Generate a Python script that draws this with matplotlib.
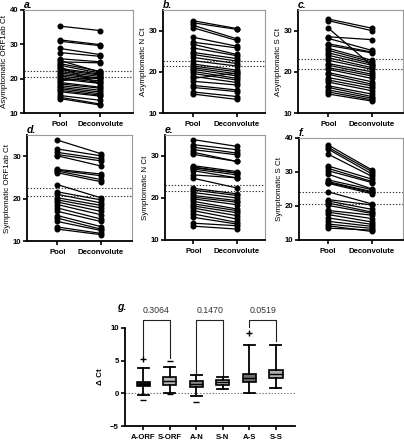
import matplotlib
matplotlib.use("Agg")
import matplotlib.pyplot as plt
import numpy as np

plt.rcParams['font.family'] = ['Liberation Sans', 'DejaVu Sans']

# ---------------- data ----------------
x_labels = ['Pool', 'Deconvolute']

a_pool = [35.3, 31.3, 30.9, 28.8, 27.6, 25.8, 25.3, 24.9, 24.4, 23.9, 23.5, 23.0, 22.6, 22.1, 21.7,
          21.2, 20.8, 20.3, 19.9, 19.4, 18.9, 18.5, 18.0, 17.5, 17.1, 16.6, 16.2, 15.1, 14.6, 14.2]
a_dec = [34.0, 29.9, 29.6, 27.0, 26.5, 24.9, 21.9, 24.6, 22.1, 21.6, 18.3, 21.3, 21.0, 20.6, 20.1,
         19.9, 19.3, 18.9, 18.6, 20.4, 17.5, 17.2, 16.6, 16.1, 15.6, 15.2, 14.9, 13.7, 12.6, 12.3]
a_means = [22.1, 20.5]

b_pool = [32.4, 31.9, 31.3, 30.7, 28.4, 27.2, 26.7, 25.8, 24.7, 24.2, 23.5, 22.7, 21.9, 21.4, 21.0,
          20.6, 20.1, 19.6, 18.9, 18.4, 17.7, 16.7, 16.2, 15.1, 14.6]
b_dec = [30.5, 30.3, 28.0, 27.6, 26.2, 25.8, 24.2, 23.9, 23.2, 22.6, 22.0, 21.4, 20.4, 20.0, 19.5,
         19.0, 18.4, 18.0, 17.4, 19.7, 16.8, 15.6, 15.2, 14.0, 13.3]
b_means = [22.7, 21.3]

c_pool = [32.8, 32.4, 30.6, 28.5, 28.1, 26.8, 26.4, 25.7, 25.2, 24.6, 24.0, 23.4, 22.8, 22.0,
          21.6, 21.0, 20.6, 19.8, 19.4, 18.6, 18.0, 17.5, 16.6, 16.2, 15.6, 15.1, 14.6]
c_dec = [30.6, 30.0, 21.5, 27.8, 25.2, 24.8, 24.6, 22.8, 22.4, 22.0, 21.6, 21.0, 20.6, 20.0,
         19.4, 19.0, 18.4, 17.6, 17.0, 16.6, 16.0, 15.4, 14.6, 14.0, 13.6, 13.2, 12.9]
c_means = [23.2, 20.7]

d_pool = [33.8, 31.7, 30.9, 30.4, 30.1, 26.9, 26.7, 26.5, 26.1, 23.3, 21.6, 21.0, 20.2, 19.7,
          19.2, 18.6, 17.8, 17.0, 16.0, 15.4, 14.6, 13.3, 12.8]
d_dec = [30.6, 30.1, 29.4, 28.9, 27.7, 25.8, 25.4, 24.5, 24.0, 20.2, 19.7, 19.0, 18.4, 17.8,
         17.0, 16.2, 15.2, 14.6, 13.4, 12.8, 12.5, 11.8, 11.5]
d_means = [22.4, 20.6]

e_pool = [33.9, 32.7, 32.1, 31.5, 30.9, 30.4, 27.7, 27.4, 27.2, 26.9, 26.5, 25.5, 24.7, 22.3,
          21.9, 21.3, 20.6, 20.2, 19.8, 19.2, 18.6, 18.1, 17.6, 17.0, 16.2, 15.4, 14.0, 13.3]
e_dec = [32.3, 31.5, 30.7, 30.3, 28.7, 28.7, 26.3, 25.9, 26.0, 25.5, 24.8, 24.8, 22.4, 21.0,
         20.6, 20.0, 19.4, 19.0, 18.4, 17.4, 17.0, 16.5, 15.8, 15.0, 14.2, 13.8, 13.4, 12.6]
e_means = [23.2, 21.6]

f_pool = [38.0, 37.3, 36.8, 35.3, 31.8, 31.1, 30.4, 29.4, 27.7, 27.2, 26.9, 26.7, 24.2, 21.9,
          21.5, 20.9, 20.2, 18.7, 18.2, 17.5, 16.5, 15.5, 14.7, 14.2, 13.5]
f_dec = [30.6, 30.1, 29.4, 28.7, 27.9, 27.2, 26.9, 25.0, 24.8, 24.2, 24.0, 23.6, 20.6, 20.3,
         19.0, 18.2, 17.8, 17.3, 16.3, 15.3, 14.6, 14.0, 13.4, 12.5, 12.9]
f_means = [24.0, 20.6]

g_labels = ['A-ORF', 'S-ORF', 'A-N', 'S-N', 'A-S', 'S-S']
g_med = [1.4, 1.9, 1.5, 1.7, 2.4, 3.0]
g_q1 = [1.1, 1.3, 1.0, 1.35, 1.75, 2.4]
g_q3 = [1.75, 2.45, 1.95, 2.05, 2.95, 3.55]
g_whislo = [-0.3, 0.0, -0.35, 0.65, 0.05, 0.85]
g_whishi = [3.9, 4.1, 2.75, 2.45, 7.4, 7.4]
g_out_idx = [0, 1, 4, 0, 1, 2]
g_out_val = [5.2, 4.9, 9.3, -0.95, -0.15, -1.3]
g_pvals = ['0.3064', '0.1470', '0.0519']
g_pairs = [(0, 1), (2, 3), (4, 5)]
g_leg_tops = [5.7, 5.45, 3.1, 2.8, 10.2, 8.0]

# ---------------- figure ----------------
W, H = 404, 440
fig = plt.figure(figsize=(W / 100, H / 100), dpi=100)


def ax_px(l, t, r, b):
    return fig.add_axes([l / W, 1 - b / H, (r - l) / W, (b - t) / H])


TFS = 5.6
LFS = 5.8


def paired(ax, pool, dec, means, ylim, yticks, ylabel, label, xlim):
    for p, d in zip(pool, dec):
        ax.plot([0, 1], [p, d], color='black', lw=0.9, marker='o', ms=3.3,
                mfc='black', mec='black', zorder=3)
    for m in means:
        ax.axhline(m, color='#333333', lw=0.8, ls=(0, (1.2, 1.6)), zorder=2)
    ax.set_xlim(*xlim)
    ax.set_ylim(*ylim)
    ax.set_yticks(yticks)
    ax.set_xticks([0, 1])
    ax.set_xticklabels(x_labels, fontsize=TFS, fontweight='bold')
    for t in ax.get_yticklabels():
        t.set_fontsize(TFS)
        t.set_fontweight('bold')
    ax.set_ylabel(ylabel, fontsize=LFS, labelpad=1.0)
    for s in ['left', 'bottom']:
        ax.spines[s].set_linewidth(1.3)
        ax.spines[s].set_color('black')
    for s in ['top', 'right']:
        ax.spines[s].set_linewidth(0.8)
        ax.spines[s].set_color('#9a9a9a')
    ax.tick_params(axis='both', length=3, width=1.2, pad=1.2, colors='black')
    ax.tick_params(axis='x', pad=3)
    ax.text(0.0, 1.0, label, transform=ax.transAxes, fontsize=7.5,
            fontweight='bold', fontstyle='italic', va='bottom', ha='left')


ax_a = ax_px(24, 10, 133, 113)
paired(ax_a, a_pool, a_dec, a_means, (10, 40), [10, 20, 30, 40],
       'Asymptomatic ORF1ab Ct', 'a.', (-0.88, 1.8))
ax_b = ax_px(163, 10, 265, 113)
paired(ax_b, b_pool, b_dec, b_means, (10, 35), [10, 20, 30],
       'Asymptomatic N Ct', 'b.', (-0.68, 1.64))
ax_c = ax_px(298, 10, 403, 113)
paired(ax_c, c_pool, c_dec, c_means, (10, 35), [10, 20, 30],
       'Asymptomatic S Ct', 'c.', (-0.7, 1.72))
ax_d = ax_px(27, 135, 132, 241)
paired(ax_d, d_pool, d_dec, d_means, (10, 35), [10, 20, 30],
       'Symptomatic ORF1ab Ct', 'd.', (-0.7, 1.72))
ax_e = ax_px(165, 135, 265, 240)
paired(ax_e, e_pool, e_dec, e_means, (10, 35), [10, 20, 30],
       'Symptomatic N Ct', 'e.', (-0.65, 1.65))
ax_f = ax_px(299, 138, 403, 240)
paired(ax_f, f_pool, f_dec, f_means, (10, 40), [10, 20, 30, 40],
       'Symptomatic S Ct', 'f.', (-0.65, 1.7))

# ---------------- panel g ----------------
ax_g = ax_px(125, 328, 295, 426)
pos = np.arange(len(g_labels))
stats = []
for i, lab in enumerate(g_labels):
    stats.append(dict(label=lab, med=g_med[i], q1=g_q1[i], q3=g_q3[i],
                      whislo=g_whislo[i], whishi=g_whishi[i], fliers=[]))
box_colors = ['#111111', '#b5b5b5', '#8a8a8a', '#b0b0b0', '#6e6e6e', '#b0b0b0']
bp = ax_g.bxp(stats, positions=pos, widths=0.5, patch_artist=True, showfliers=False,
              capwidths=0.42,
              boxprops=dict(edgecolor='black', linewidth=1.2),
              whiskerprops=dict(color='black', linewidth=1.3),
              capprops=dict(color='black', linewidth=1.3),
              medianprops=dict(color='black', linewidth=1.0))
for patch, c in zip(bp['boxes'], box_colors):
    patch.set_facecolor(c)

out_markers = ['+', '_', '+', '_', '_', '_']
for k, (i, v) in enumerate(zip(g_out_idx, g_out_val)):
    ax_g.plot(pos[i], v, marker=out_markers[k], color='black', ms=4, mew=1.0,
              ls='none', clip_on=False)

ax_g.axhline(0, color='#777777', lw=0.8, ls=(0, (1.2, 1.6)), zorder=0)
ax_g.set_xlim(-0.69, 5.72)
ax_g.set_ylim(-5, 10)
ax_g.set_yticks([-5, 0, 5, 10])
ax_g.set_xticks(pos)
ax_g.set_xticklabels(g_labels, fontsize=TFS, fontweight='bold')
for t in ax_g.get_yticklabels():
    t.set_fontsize(TFS)
    t.set_fontweight('bold')
ax_g.set_ylabel('Δ Ct', fontsize=LFS, fontweight='bold', labelpad=4)
for s in ['top', 'right']:
    ax_g.spines[s].set_visible(False)
for s in ['left', 'bottom']:
    ax_g.spines[s].set_linewidth(1.3)
ax_g.tick_params(axis='both', length=3, width=1.2, pad=1.5)
ax_g.tick_params(axis='x', pad=3)

bracket_y = 11.2
for k, ((i, j), p) in enumerate(zip(g_pairs, g_pvals)):
    yl = g_leg_tops[2 * k]
    yr = g_leg_tops[2 * k + 1]
    ax_g.plot([pos[i], pos[i], pos[j], pos[j]], [yl, bracket_y, bracket_y, yr],
              color='#222222', lw=0.8, clip_on=False)
    ax_g.text((pos[i] + pos[j]) / 2, bracket_y + 0.8, p, ha='center', va='bottom',
              fontsize=6.3, color='#333333', clip_on=False)

fig.text(117 / W, 1 - 307 / H, 'g.', fontsize=7.5, fontweight='bold', fontstyle='italic',
         va='center', ha='left')

fig.savefig('out.png', dpi=100)
